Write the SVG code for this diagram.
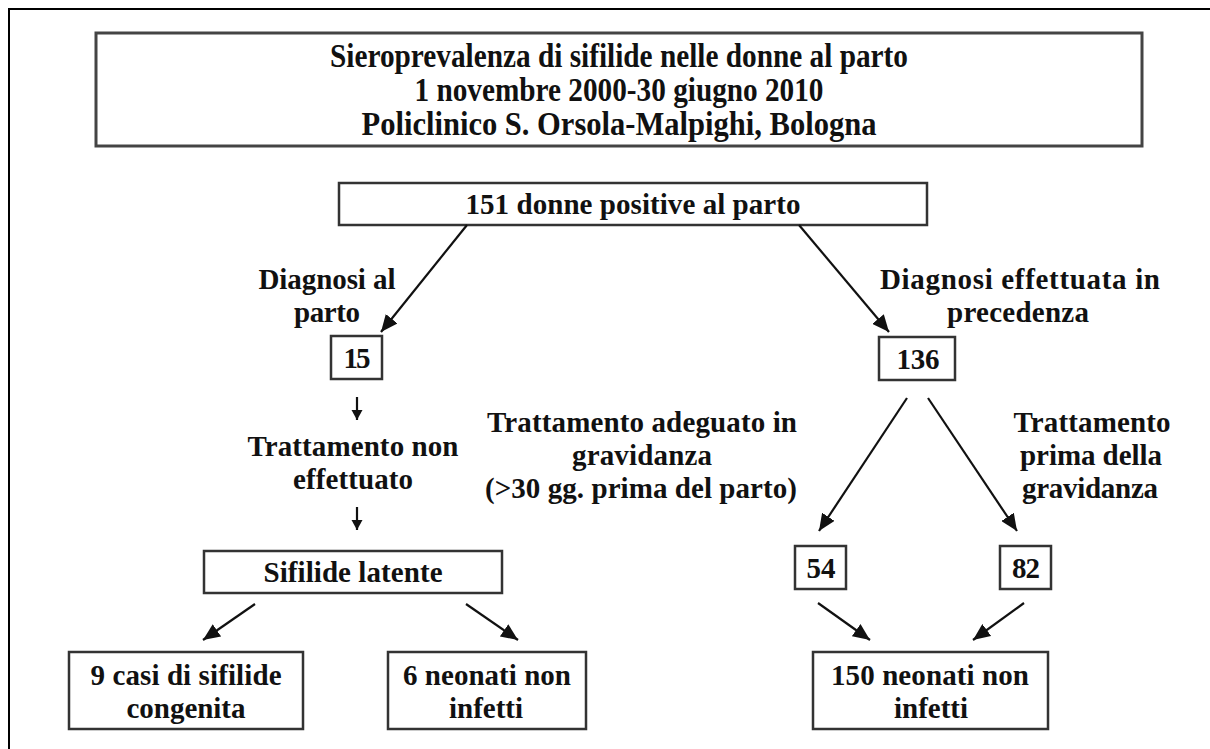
<svg xmlns="http://www.w3.org/2000/svg" width="1210" height="749" viewBox="0 0 1210 749">
<style>
  .t { font-family: "Liberation Serif", "Times New Roman", serif; font-weight: bold; font-size: 29px; fill: #111; text-anchor: middle; }
  .title { font-family: "Liberation Serif", "Times New Roman", serif; font-weight: bold; font-size: 33px; fill: #111; text-anchor: middle; }
  .box { fill: #fff; stroke: #333; stroke-width: 2.5; }
  .tbox { fill: #fff; stroke: #444; stroke-width: 3; }
  .c { stroke: #111; stroke-width: 2.2; fill: none; }
</style>
<defs>
  <marker id="ah" markerUnits="userSpaceOnUse" markerWidth="18" markerHeight="15" refX="17" refY="7.5" orient="auto">
    <path d="M0,0 L17,7.5 L0,15 z" fill="#111"/>
  </marker>
  <marker id="ahs" markerUnits="userSpaceOnUse" markerWidth="12" markerHeight="12" refX="10" refY="5.5" orient="auto">
    <path d="M0,0 L10,5.5 L0,11 z" fill="#111"/>
  </marker>
</defs>
<rect width="1210" height="749" fill="#fff"/>
<path d="M9,749 V9 H1210" fill="none" stroke="#000" stroke-width="2"/>

<g id="title">
  <rect class="tbox" x="96" y="33" width="1046" height="113"/>
  <text class="title" x="619" y="67" textLength="578" lengthAdjust="spacingAndGlyphs">Sieroprevalenza di sifilide nelle donne al parto</text>
  <text class="title" x="619" y="101" textLength="409" lengthAdjust="spacingAndGlyphs">1 novembre 2000-30 giugno 2010</text>
  <text class="title" x="619" y="135" textLength="515" lengthAdjust="spacingAndGlyphs">Policlinico S. Orsola-Malpighi, Bologna</text>
</g>

<g id="n151">
  <rect class="box" x="339" y="183" width="588" height="42"/>
  <text class="t" x="633" y="214" textLength="335">151 donne positive al parto</text>
</g>

<g id="lbl-diag-parto">
  <text class="t" x="327" y="289" textLength="137">Diagnosi al</text>
  <text class="t" x="327" y="322" textLength="66">parto</text>
</g>
<g id="lbl-diag-prec">
  <text class="t" x="1020" y="289" textLength="280">Diagnosi effettuata in</text>
  <text class="t" x="1018" y="322" textLength="142">precedenza</text>
</g>

<g id="n15">
  <rect class="box" x="331" y="336" width="51" height="43"/>
  <text class="t" x="357" y="368" textLength="27">15</text>
</g>
<g id="n136">
  <rect class="box" x="879" y="337" width="76" height="43"/>
  <text class="t" x="918" y="369" textLength="43">136</text>
</g>

<g id="lbl-tratt-non">
  <text class="t" x="353" y="456" textLength="211">Trattamento non</text>
  <text class="t" x="353" y="489" textLength="120">effettuato</text>
</g>
<g id="lbl-tratt-adeg">
  <text class="t" x="642" y="432" textLength="310">Trattamento adeguato in</text>
  <text class="t" x="642" y="465" textLength="140">gravidanza</text>
  <text class="t" x="641" y="498" textLength="312">(&gt;30 gg. prima del parto)</text>
</g>
<g id="lbl-tratt-prima">
  <text class="t" x="1092" y="432" textLength="157">Trattamento</text>
  <text class="t" x="1091" y="465" textLength="142">prima della</text>
  <text class="t" x="1090" y="498" textLength="136">gravidanza</text>
</g>

<g id="nlatente">
  <rect class="box" x="204" y="551" width="298" height="42"/>
  <text class="t" x="353" y="582" textLength="179">Sifilide latente</text>
</g>
<g id="n54">
  <rect class="box" x="795" y="546" width="51" height="43"/>
  <text class="t" x="821" y="578" textLength="29">54</text>
</g>
<g id="n82">
  <rect class="box" x="1000" y="546" width="51" height="43"/>
  <text class="t" x="1026" y="578" textLength="28">82</text>
</g>

<g id="n9">
  <rect class="box" x="69" y="652" width="234" height="77"/>
  <text class="t" x="186" y="685" textLength="191">9 casi di sifilide</text>
  <text class="t" x="186" y="718" textLength="119">congenita</text>
</g>
<g id="n6">
  <rect class="box" x="388" y="652" width="198" height="77"/>
  <text class="t" x="487" y="685" textLength="168">6 neonati non</text>
  <text class="t" x="486" y="718" textLength="74">infetti</text>
</g>
<g id="n150">
  <rect class="box" x="813" y="652" width="235" height="77"/>
  <text class="t" x="930" y="685" textLength="198">150 neonati non</text>
  <text class="t" x="931" y="718" textLength="74">infetti</text>
</g>

<g id="connectors">
  <line class="c" x1="467" y1="225" x2="381" y2="332" marker-end="url(#ah)"/>
  <line class="c" x1="799" y1="225" x2="889" y2="332" marker-end="url(#ah)"/>
  <line class="c" x1="357" y1="397" x2="357" y2="420" marker-end="url(#ahs)"/>
  <line class="c" x1="357" y1="507" x2="357" y2="530" marker-end="url(#ahs)"/>
  <line class="c" x1="907" y1="398" x2="819" y2="531" marker-end="url(#ah)"/>
  <line class="c" x1="928" y1="398" x2="1017" y2="531" marker-end="url(#ah)"/>
  <line class="c" x1="255" y1="604" x2="203" y2="640" marker-end="url(#ah)"/>
  <line class="c" x1="466" y1="604" x2="518" y2="640" marker-end="url(#ah)"/>
  <line class="c" x1="818" y1="603" x2="870" y2="640" marker-end="url(#ah)"/>
  <line class="c" x1="1024" y1="603" x2="973" y2="640" marker-end="url(#ah)"/>
</g>
</svg>
